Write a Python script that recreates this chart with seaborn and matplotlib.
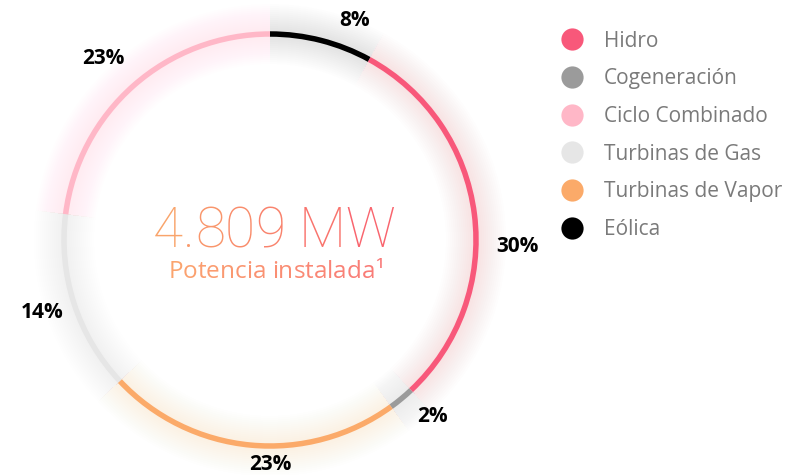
import matplotlib
matplotlib.use('Agg')
import matplotlib.pyplot as plt
import seaborn as sns
from matplotlib.lines import Line2D
from matplotlib.colors import to_rgb

# data (clockwise from the top)
labels = ['Eólica', 'Hidro', 'Cogeneración', 'Turbinas de Vapor', 'Turbinas de Gas', 'Ciclo Combinado']
values = [8, 30, 2, 23, 14, 23]
colors = ['#000000', '#F8587A', '#9B9B9B', '#FBAA69', '#E6E6E6', '#FFB7C7']
glow_colors = ['#909090', '#F8587A', '#A0A0A0', '#FBAA69', '#b8b8b8', '#FF9FB6']
legend_order = ['Hidro', 'Cogeneración', 'Ciclo Combinado', 'Turbinas de Gas', 'Turbinas de Vapor', 'Eólica']
total_text = '4.809 MW'
sub_text = 'Potencia instalada¹'

# where the percent labels sit, relative to the ring centre (pixels)
label_offsets = [(85, 220), (247, -7), (162, -176), (0, -225), (-228, -73), (-167, 182)]

sns.set_theme(style='white')
plt.rcParams['font.family'] = ['Open Sans', 'DejaVu Sans']

fig = plt.figure(figsize=(8, 4.75), dpi=100)
ax = fig.add_axes([0, 0, 1, 1])
cx, cy, R = 270, 235, 206

# soft glow around the ring: many faint bands, stacked
for k in range(14):
    w = 8 + 4 * k
    ax.pie(values, radius=R + w / 2, colors=glow_colors, startangle=90, counterclock=False,
           center=(cx, cy), frame=True, wedgeprops=dict(width=w, linewidth=0, alpha=0.01))

# main thin ring
wedges, _, pcts = ax.pie(values, radius=R + 2.75, colors=colors, startangle=90, counterclock=False,
                         center=(cx, cy), frame=True, autopct=lambda p: f'{p:.0f}%',
                         pctdistance=1.15, wedgeprops=dict(width=5.5, linewidth=0))
for t, (dx, dy) in zip(pcts, label_offsets):
    t.set_position((cx + dx, cy + dy))
    t.set_fontsize(15)
    t.set_fontweight('bold')
    t.set_color('black')

ax.set_xlim(0, 800)
ax.set_ylim(0, 475)
ax.set_aspect('equal')
ax.axis('off')


def mix(c0, c1, f):
    a, b = to_rgb(c0), to_rgb(c1)
    return tuple(a[i] + (b[i] - a[i]) * f for i in range(3))


def gradient_text(s, x, y, size, c0, c1, family, weight='normal'):
    r = fig.canvas.get_renderer()
    kw = dict(fontsize=size, fontweight=weight, family=family)
    t = ax.text(0, 0, s, **kw)
    total = t.get_window_extent(r).width
    t.remove()
    x0 = x - total / 2
    for i, ch in enumerate(s):
        w = 0
        if i:
            p = ax.text(0, 0, s[:i], **kw)
            w = p.get_window_extent(r).width
            p.remove()
        ax.text(x0 + w, y, ch, ha='left', va='baseline', color=mix(c0, c1, (w + 5) / total), **kw)


gradient_text(total_text, 274, 228, 39.5, '#F9A66B', '#F9566F', ['Roboto', 'DejaVu Sans'], weight='light')
gradient_text(sub_text, 276, 197, 17.5, '#FBA56E', '#F97878', ['Open Sans', 'DejaVu Sans'])

handles = [Line2D([], [], marker='o', ls='', markersize=16, markeredgewidth=0,
                  markerfacecolor=colors[labels.index(l)]) for l in legend_order]
ax.legend(handles, legend_order, loc='upper left', bbox_to_anchor=(0.679, 0.953), frameon=False,
          fontsize=15, labelcolor='#7a7a7a', labelspacing=0.8, handletextpad=0.5, borderaxespad=0)

fig.savefig('out.png', dpi=100)
